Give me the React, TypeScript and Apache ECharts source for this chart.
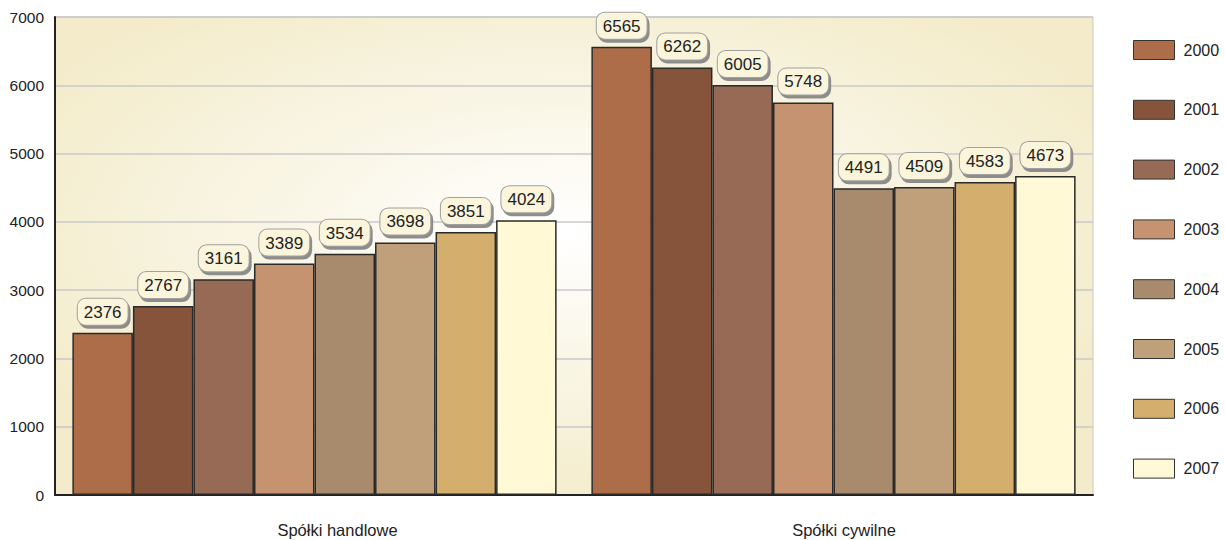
import React, { useEffect, useRef } from "react";
import * as echarts from "echarts";

const categories = ["Spółki handlowe", "Spółki cywilne"];
const years = ["2000", "2001", "2002", "2003", "2004", "2005", "2006", "2007"];
const values2000 = [2376, 6565];
const values2001 = [2767, 6262];
const values2002 = [3161, 6005];
const values2003 = [3389, 5748];
const values2004 = [3534, 4491];
const values2005 = [3698, 4509];
const values2006 = [3851, 4583];
const values2007 = [4024, 4673];
const seriesValues = [values2000, values2001, values2002, values2003, values2004, values2005, values2006, values2007];
const colors = ["#ad6d48", "#85543a", "#966a55", "#c5936f", "#a88a6c", "#c0a07b", "#d4ae6c", "#fff9d6"];
const yTicks = [0, 1000, 2000, 3000, 4000, 5000, 6000, 7000];

export default function App() {
  const ref = useRef<HTMLDivElement>(null);
  useEffect(() => {
    document.body.style.margin = "0";
    const chart = echarts.init(ref.current!, null, { renderer: "svg" });
    const font = "Liberation Sans, Arial, sans-serif";
    chart.setOption({
      animation: false,
      textStyle: { fontFamily: font, color: "#222" },
      grid: {
        left: 55,
        right: 132,
        top: 17,
        bottom: 45,
        show: true,
        borderColor: "#c8c8c8",
        borderWidth: 1,
        backgroundColor: {
          type: "radial",
          x: 0.49,
          y: 0.45,
          r: 0.6,
          colorStops: [
            { offset: 0, color: "#ffffff" },
            { offset: 1, color: "#f3ebc9" },
          ],
        },
      },
      legend: {
        orient: "vertical",
        left: 1128,
        top: 35,
        itemWidth: 41,
        itemHeight: 19,
        itemGap: 39.8,
        icon: "rect",
        textStyle: { fontSize: 16, color: "#222", fontFamily: font, padding: [0, 0, 0, 4] },
        itemStyle: { borderColor: "#333", borderWidth: 1 },
        data: years,
      },
      xAxis: {
        type: "category",
        data: categories,
        axisLine: { lineStyle: { color: "#222", width: 2 } },
        axisTick: { show: false },
        axisLabel: {
          fontSize: 16.5,
          color: "#222",
          margin: 26,
          fontFamily: font,
          formatter: (v: string, idx: number) => (idx === 0 ? `{a|${v}}` : `{b|${v}}`),
          rich: {
            a: { fontSize: 16.5, color: "#222", fontFamily: font, padding: [0, 0, 0, 46] },
            b: { fontSize: 16.5, color: "#222", fontFamily: font, padding: [0, 0, 0, 21] },
          },
        },
      },
      yAxis: {
        type: "value",
        min: 0,
        max: 7000,
        interval: 1000,
        axisLine: { show: true, lineStyle: { color: "#222", width: 2 } },
        axisTick: { show: false },
        axisLabel: {
          fontSize: 15.5,
          color: "#222",
          margin: 11,
          fontFamily: font,
          formatter: (v: number) => (yTicks.includes(v) ? String(v) : ""),
        },
        splitLine: { lineStyle: { color: "#c8c8c8", width: 1.5 } },
      },
      series: years.map((y, i) => ({
        name: y,
        type: "bar",
        data: seriesValues[i],
        barGap: "0%",
        barCategoryGap: "6.7%",
        itemStyle: { color: colors[i], borderColor: "#2a2a2a", borderWidth: 1.5 },
        label: {
          show: true,
          position: "top",
          distance: 8,
          fontSize: 17,
          color: "#222",
          fontFamily: font,
          backgroundColor: "#fbf5dc",
          borderColor: "#a0a0a0",
          borderWidth: 1,
          borderRadius: 8,
          padding: [5, 6, 4, 6],
          shadowColor: "rgba(130,130,130,0.9)",
          shadowOffsetX: 2,
          shadowOffsetY: 3,
          shadowBlur: 0,
        },
      })),
    });
    return () => chart.dispose();
  }, []);
  return <div ref={ref} style={{ width: 1225, height: 540 }} />;
}
